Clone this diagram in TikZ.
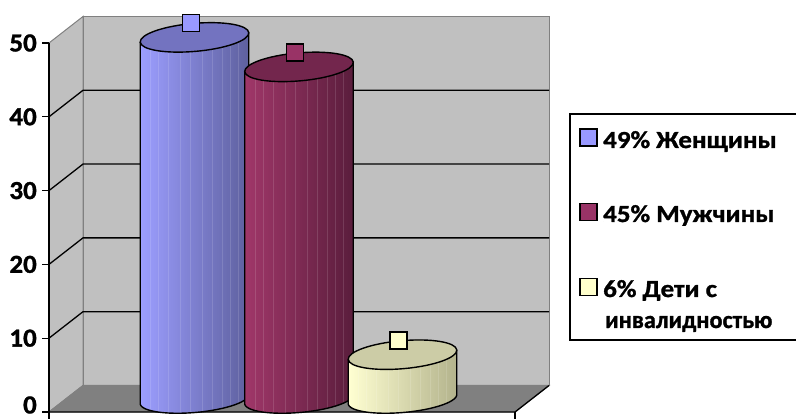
\documentclass[tikz,border=0pt]{standalone}
\usepackage{fontspec}
\setmainfont{Carlito}[BoldFont={Carlito Bold}]
\newfontfamily\legfont{Carlito Bold}[FakeStretch=1.10, FakeBold=1.2]
\newfontfamily\legfontn{Carlito Bold}[FakeStretch=0.99, FakeBold=1.2]
\newfontfamily\axfont{Carlito Bold}[FakeStretch=1.04, FakeBold=1.2]
\definecolor{wall}{HTML}{C0C0C0}
\definecolor{floorc}{HTML}{808080}
\definecolor{edgec}{HTML}{808080}
\definecolor{blueS}{HTML}{9999FF}
\definecolor{blueL}{HTML}{9C9EFF}
\definecolor{blueR}{HTML}{5E609E}
\definecolor{blueT}{HTML}{7373C0}
\definecolor{marS}{HTML}{993366}
\definecolor{marL}{HTML}{A03769}
\definecolor{marR}{HTML}{5A1D3C}
\definecolor{marT}{HTML}{73264D}
\definecolor{yelS}{HTML}{FFFFCC}
\definecolor{yelL}{HTML}{FFFFD2}
\definecolor{yelR}{HTML}{B3B38C}
\definecolor{yelT}{HTML}{CCCCA6}
\newcommand\cylpath[2]{%
  plot[domain=180:360,samples=60] ({#1+54.5*cos(\x)*cos(5)-13.5*sin(\x)*sin(5)},{20+54.5*cos(\x)*sin(5)+13.5*sin(\x)*cos(5)})
  -- plot[domain=0:180,samples=60] ({#1+54.5*cos(\x)*cos(5)-14*sin(\x)*sin(5)},{#2+54.5*cos(\x)*sin(5)+14*sin(\x)*cos(5)})
  -- cycle}
\newcommand\mycyl[6]{%
  \fill[left color=#3, right color=#4] \cylpath{#1}{#2};
  \begin{scope}
    \clip \cylpath{#1}{#2};
    \foreach \o in {-44,-36,-26,-14,-4,8,18,28,36,44}
      \draw[white, opacity=0.13, line width=0.8] ({#1+\o},0) -- ({#1+\o},419);
  \end{scope}
  \draw[cylline] ({#1-54.29},{#2-4.75}) -- ({#1-54.29},{20-4.75})
    plot[domain=180:360,samples=60] ({#1+54.5*cos(\x)*cos(5)-13.5*sin(\x)*sin(5)},{20+54.5*cos(\x)*sin(5)+13.5*sin(\x)*cos(5)})
    -- ({#1+54.29},{#2+4.75});
  \draw[cylline, fill=#5, rotate around={5:(#1,#2)}] (#1,#2) ellipse[x radius=54.5, y radius=14];
}
\begin{document}
\begin{tikzpicture}[x=1pt,y=1pt,
  cylline/.style={draw=black, line width=1.4},
  gridline/.style={draw=black, line width=1.3},
  wallline/.style={draw=edgec, line width=1},
  axlabel/.style={anchor=east, inner sep=0pt, font=\axfont\fontsize{26}{26}\selectfont},
  legtext/.style={anchor=base west, inner sep=0pt, font=\legfont\fontsize{24.5}{24.5}\selectfont},
  sq/.style={draw=black, line width=1.3, minimum size=17pt, inner sep=0pt}]
\clip (0,0) rectangle (796,419);
\fill[white] (0,0) rectangle (796,419);
% walls and floor
\filldraw[fill=wall, wallline] (49,376) -- (83,402.5) -- (83,33.5) -- (49,7) -- cycle;
\filldraw[fill=wall, wallline] (83,33.5) rectangle (549,402.5);
\filldraw[fill=floorc, wallline] (49,7) -- (83,33.5) -- (549,33.5) -- (515,7) -- cycle;
% gridlines
\foreach \v in {1,...,4}
  \draw[gridline] (49,{7+\v*73.8}) -- (83,{33.5+\v*73.8}) -- (549,{33.5+\v*73.8});
% floor front edges
\draw[gridline] (49,7) -- (515,7) -- (549,33.5);
\draw[gridline] (515,7) -- (515,0);
% axis
\draw[gridline] (49,0) -- (49,376);
\foreach \v in {0,...,5}
  \draw[gridline] (42,{7+\v*73.8}) -- (49,{7+\v*73.8});
\node[axlabel] (l0) at (37,14) {0};
\node[axlabel] (l10) at (37,80.8) {10};
\node[axlabel] (l20) at (37,154.6) {20};
\node[axlabel] (l30) at (37,228.4) {30};
\node[axlabel] (l40) at (37,302.2) {40};
\node[axlabel] (l50) at (37,376) {50};
% cylinders
\mycyl{194.5}{381.6}{blueL}{blueR}{blueT}{blueS}
\mycyl{299}{352.1}{marL}{marR}{marT}{marS}
\mycyl{402.5}{64.3}{yelL}{yelR}{yelT}{yelS}
% value markers
\node[sq, fill=blueS] (m1) at (191,396) {};
\node[sq, fill=marS] (m2) at (295,366.5) {};
\node[sq, fill=yelS] (m3) at (398.5,78.5) {};
% legend
\draw[black, line width=1.3] (570,305) rectangle (805,79);
\node[sq, fill=blueS] (k1) at (588.5,281.5) {};
\node[sq, fill=marS] (k2) at (588.5,207) {};
\node[sq, fill=yelS] (k3) at (588.5,132) {};
\node[legtext] (t1) at (603,271) {49\% Женщины};
\node[legtext] (t2) at (603,197) {45\% Мужчины};
\node[legtext] (t3) at (603,122) {6\% Дети с};
\node[legtext, font=\legfontn\fontsize{24.5}{24.5}\selectfont] (t4) at (605,91) {инвалидностью};
\end{tikzpicture}
\end{document}
